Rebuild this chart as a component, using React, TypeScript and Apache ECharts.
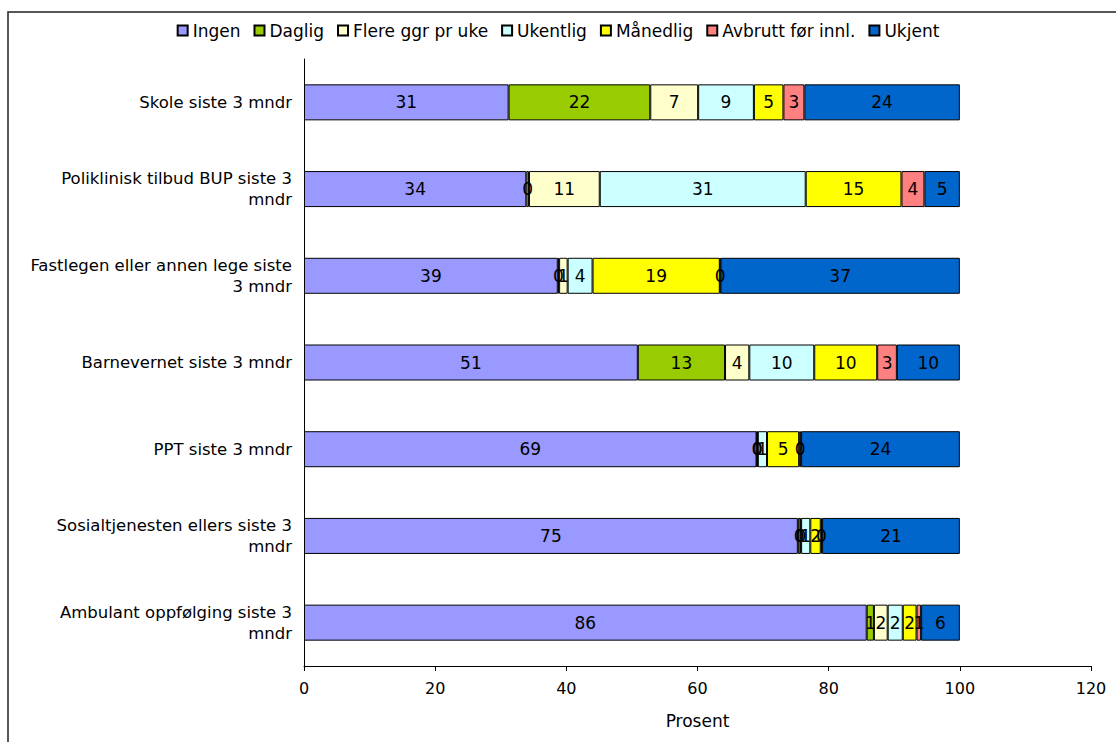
import React, { useEffect, useRef } from "react";
import * as echarts from "echarts";

const categories = [
  "Skole siste 3 mndr",
  "Poliklinisk tilbud BUP siste 3\nmndr",
  "Fastlegen eller annen lege siste\n3 mndr",
  "Barnevernet siste 3 mndr",
  "PPT siste 3 mndr",
  "Sosialtjenesten ellers siste 3\nmndr",
  "Ambulant oppfølging siste 3\nmndr",
];

const seriesNames = ["Ingen", "Daglig", "Flere ggr pr uke", "Ukentlig", "Månedlig", "Avbrutt før innl.", "Ukjent"];
const colors = ["#9999FF", "#99CC00", "#FFFFCC", "#CCFFFF", "#FFFF00", "#FF8080", "#0066CC"];

const ingen = [31.2, 33.9, 38.7, 50.9, 69.0, 75.3, 85.8];
const daglig = [21.6, 0.4, 0.2, 13.3, 0.1, 0.4, 1.1];
const flere = [7.3, 10.8, 1.3, 3.7, 0.1, 0.1, 2.1];
const ukentlig = [8.5, 31.4, 3.8, 9.9, 1.4, 1.4, 2.3];
const maanedlig = [4.5, 14.6, 19.4, 9.6, 4.9, 1.6, 2.1];
const avbrutt = [3.2, 3.5, 0.1, 3.0, 0.3, 0.2, 0.7];
const ukjent = [23.7, 5.4, 36.5, 9.6, 24.2, 21.0, 5.9];

const seriesData = [ingen, daglig, flere, ukentlig, maanedlig, avbrutt, ukjent];

const xTicks = { min: 0, max: 120, interval: 20 };

export default function App() {
  const ref = useRef<HTMLDivElement>(null);
  useEffect(() => {
    if (!ref.current) return;
    const chart = echarts.init(ref.current, null, { renderer: "svg" });
    const font = "DejaVu Sans";
    chart.setOption({
      animation: false,
      textStyle: { fontFamily: font },
      graphic: [
        {
          type: "rect",
          shape: { x: 8, y: 12, width: 1300, height: 900 },
          style: { fill: "none", stroke: "#222", lineWidth: 1.5 },
          silent: true,
        },
      ],
      legend: {
        top: 17,
        left: "center",
        itemWidth: 10,
        itemHeight: 10,
        itemGap: 13,
        icon: "rect",
        textStyle: { fontSize: 17, color: "#000", fontFamily: font },
        data: seriesNames,
      },
      grid: { left: 304, right: 25, top: 59, bottom: 76, containLabel: false },
      xAxis: {
        type: "value",
        min: xTicks.min,
        max: xTicks.max,
        interval: xTicks.interval,
        name: "Prosent",
        nameLocation: "middle",
        nameGap: 46,
        nameTextStyle: { fontSize: 17, color: "#000", fontFamily: font },
        axisLine: { show: true, lineStyle: { color: "#000", width: 1 } },
        axisTick: { show: true, length: 5, lineStyle: { color: "#000" } },
        axisLabel: { fontSize: 16, color: "#000", margin: 14, fontFamily: font },
        splitLine: { show: false },
      },
      yAxis: {
        type: "category",
        inverse: true,
        data: categories,
        axisLine: { show: true, lineStyle: { color: "#000", width: 1 } },
        axisTick: { show: false },
        axisLabel: { fontSize: 16.5, color: "#000", margin: 12, fontFamily: font, lineHeight: 21, align: "right" },
      },
      series: seriesNames.map((name, i) => ({
        name,
        type: "bar",
        stack: "total",
        barWidth: 36,
        data: seriesData[i],
        itemStyle: { color: colors[i], borderColor: "#000", borderWidth: 1 },
        label: {
          show: true,
          position: "inside",
          color: "#000",
          fontSize: 17,
          fontFamily: font,
          formatter: (p: any) => String(Math.round(p.value)),
        },
      })),
    });
    return () => chart.dispose();
  }, []);
  return <div ref={ref} style={{ position: "absolute", left: 0, top: 0, width: 1116, height: 742 }} />;
}
